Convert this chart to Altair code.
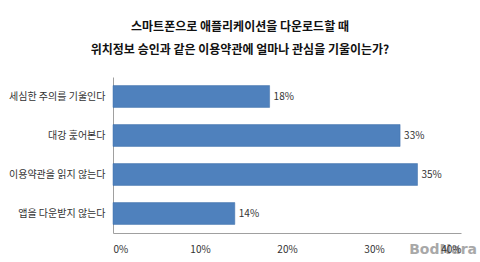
import altair as alt
import pandas as pd

categories = ["세심한 주의를 기울인다", "대강 훑어본다", "이용약관을 읽지 않는다", "앱을 다운받지 않는다"]
values = [18, 33, 35, 14]
labels = ["18%", "33%", "35%", "14%"]
title_lines = ["스마트폰으로 애플리케이션을 다운로드할 때", "위치정보 승인과 같은 이용약관에 얼마나 관심을 기울이는가?"]

df = pd.DataFrame({"cat": categories, "val": values, "label": labels})
FONT = "Noto Sans CJK KR"

y = alt.Y("cat:N", sort=categories, title=None,
          scale=alt.Scale(paddingInner=0.44, paddingOuter=0.22),
          axis=alt.Axis(ticks=False, labelPadding=8, labelFontSize=10, labelColor="#333333",
                        labelFont=FONT, domainColor="#a0a0a0"))
x = alt.X("val:Q", title=None,
          scale=alt.Scale(domain=[0, 40]),
          axis=alt.Axis(values=[0, 10, 20, 30, 40], labelExpr="datum.value + '%'", ticks=False,
                        grid=False, labelPadding=11, labelFontSize=10, labelColor="#333333",
                        labelFont=FONT, domainColor="#a0a0a0", zindex=1))

bars = alt.Chart(df).mark_bar(color="#4F81BD", stroke="#3f6fa8", strokeWidth=0.5).encode(x=x, y=y)
text = alt.Chart(df).mark_text(align="left", dx=4, fontSize=10, color="#333333", font=FONT).encode(
    x="val:Q", y=alt.Y("cat:N", sort=categories), text="label:N")
mark = alt.Chart(pd.DataFrame({"t": ["BodNara"]})).mark_text(
    align="right", baseline="middle", fontSize=14, fontWeight="bold", color="#9a9a9a", opacity=0.85,
    font="DejaVu Sans"
).encode(x=alt.value(364), y=alt.value(173), text="t:N")

chart = alt.layer(bars, text, mark).properties(
    width=348, height=156,
    autosize=alt.AutoSizeParams(type="none"),
    padding={"left": 113, "top": 77, "right": 19, "bottom": 29},
    title=alt.TitleParams(text=title_lines, anchor="middle", dx=-47, offset=20,
                          fontSize=12, fontWeight="bold", font=FONT, color="#111111", lineHeight=23),
).configure_view(stroke=None)

chart.save("out.html", embed_options={"renderer": "svg", "actions": False})
